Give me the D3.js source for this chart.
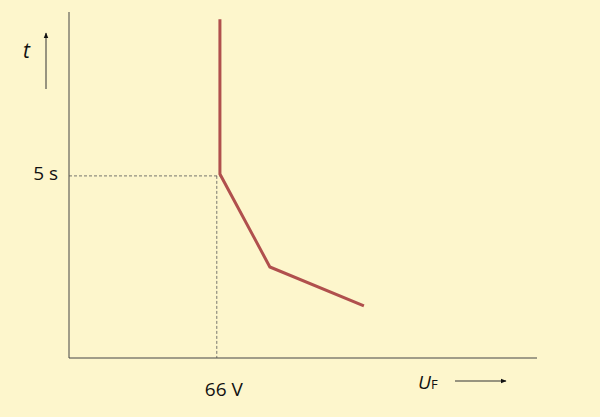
<!DOCTYPE html>
<html>
<head>
<meta charset="UTF-8">
<script src="https://cdn.jsdelivr.net/npm/d3@7"></script>
<style>body{margin:0;background:#fdf6cc;} text{font-family:"Open Sans",sans-serif;}</style>
</head>
<body>
<svg width="600" height="417"></svg>
<script>
  // curve points: fault voltage (V) and time (s)
  const curveU = [67.4, 67.4, 89.7, 131.7];
  const curveT = [9.3, 5.05, 2.5, 1.43];
  const markU = 66, markT = 5;
  const tickLabels = ["66 V", "5 s"];

  const svg = d3.select("svg");
  svg.append("rect").attr("width", 600).attr("height", 417).attr("fill", "#fdf6cc");

  const x = d3.scaleLinear().domain([0, 209]).range([69, 537]);
  const y = d3.scaleLinear().domain([0, 9.5]).range([358, 12]);

  // axes
  svg.append("line").attr("x1", x(0)).attr("x2", x(0)).attr("y1", y(9.5)).attr("y2", y(0))
    .attr("stroke", "#444").attr("stroke-width", 1);
  svg.append("line").attr("x1", x(0)).attr("x2", x(209)).attr("y1", y(0)).attr("y2", y(0))
    .attr("stroke", "#444").attr("stroke-width", 1);

  // dashed guides
  svg.append("line").attr("x1", x(0)).attr("x2", x(markU) + 3).attr("y1", y(markT)).attr("y2", y(markT))
    .attr("stroke", "#555").attr("stroke-dasharray", "3,2").attr("stroke-width", 0.8);
  svg.append("line").attr("x1", x(markU)).attr("x2", x(markU)).attr("y1", y(markT)).attr("y2", y(0))
    .attr("stroke", "#555").attr("stroke-dasharray", "3,2").attr("stroke-width", 0.8);

  // curve
  const pts = curveU.map((u, i) => [x(u), y(curveT[i])]);
  svg.append("path").attr("d", d3.line()(pts)).attr("fill", "none")
    .attr("stroke", "#b0504d").attr("stroke-width", 3);

  // labels
  svg.append("text").attr("x", x(markU) + 7).attr("y", 396).attr("text-anchor", "middle")
    .attr("font-size", 19).attr("fill", "#111").text(tickLabels[0]);
  svg.append("text").attr("x", 58).attr("y", 180).attr("text-anchor", "end")
    .attr("font-size", 19).attr("fill", "#111").text(tickLabels[1]);
  svg.append("text").attr("x", 23).attr("y", 58).attr("font-size", 21)
    .attr("font-style", "italic").attr("fill", "#111").text("t");
  const uf = svg.append("text").attr("x", 418).attr("y", 389).attr("font-size", 19).attr("fill", "#111");
  uf.append("tspan").attr("font-style", "italic").text("U");
  uf.append("tspan").attr("font-size", 13).text("F");

  // arrows
  svg.append("defs").append("marker").attr("id", "ah").attr("viewBox", "0 0 10 10")
    .attr("refX", 9).attr("refY", 5).attr("markerWidth", 6).attr("markerHeight", 6)
    .attr("orient", "auto").append("path").attr("d", "M0,1L10,5L0,9Z").attr("fill", "#111");
  svg.append("line").attr("x1", 46).attr("x2", 46).attr("y1", 89).attr("y2", 33)
    .attr("stroke", "#333").attr("stroke-width", 1).attr("marker-end", "url(#ah)");
  svg.append("line").attr("x1", 455).attr("x2", 506).attr("y1", 381).attr("y2", 381)
    .attr("stroke", "#333").attr("stroke-width", 1).attr("marker-end", "url(#ah)");
</script>
</body>
</html>
